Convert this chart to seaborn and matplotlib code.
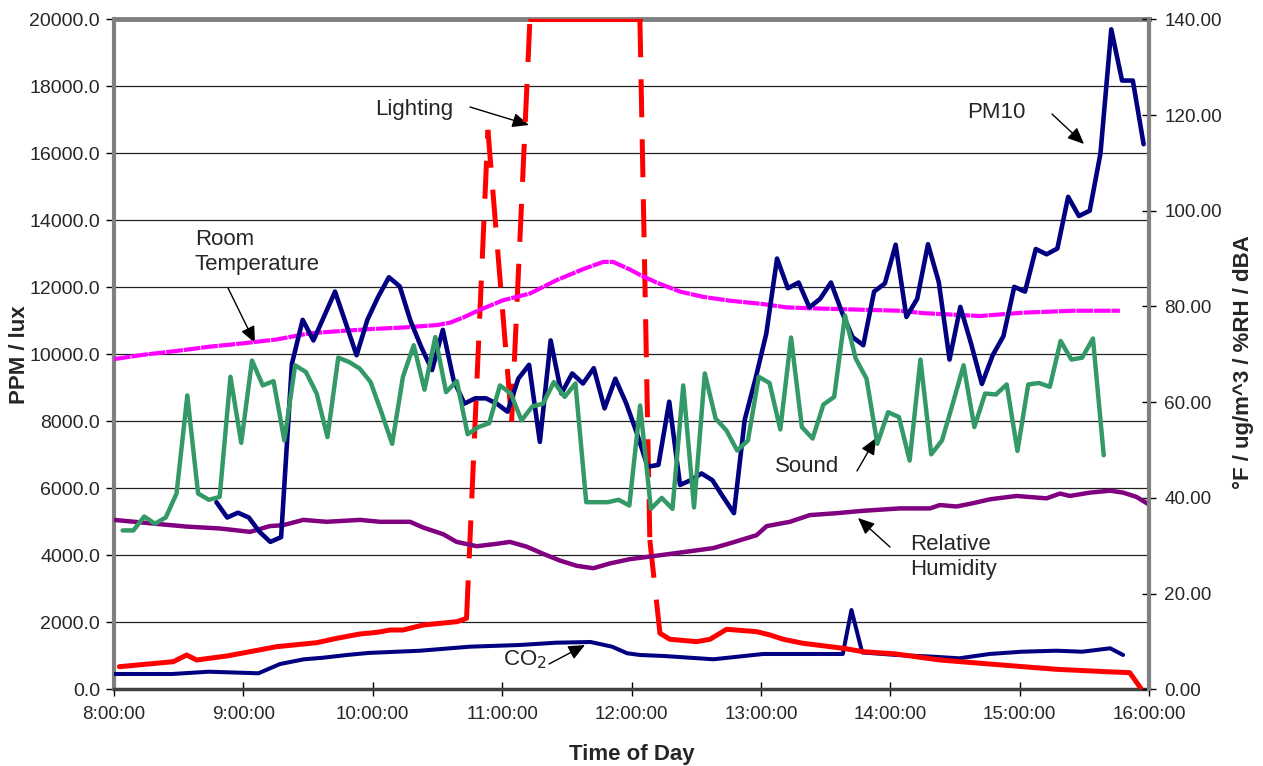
import numpy as np
import pandas as pd
import matplotlib
matplotlib.use("Agg")
import matplotlib.pyplot as plt
import seaborn as sns

sns.set_style("white")
plt.rcParams['font.family'] = ['Liberation Sans', 'DejaVu Sans']

# ---------------- data ----------------
hour_ticks = [8, 9, 10, 11, 12, 13, 14, 15, 16]
hour_labels = ["8:00:00", "9:00:00", "10:00:00", "11:00:00", "12:00:00",
               "13:00:00", "14:00:00", "15:00:00", "16:00:00"]
left_ticks = [0, 2000, 4000, 6000, 8000, 10000, 12000, 14000, 16000, 18000, 20000]
right_ticks = [0, 20, 40, 60, 80, 100, 120, 140]

# Sound (dBA), sampled every 5 min starting 8:04
sound_start_min = 4
sound_dba = [33.2, 33.2, 36.1, 34.6, 35.9, 40.9, 61.4, 40.9, 39.6, 40.2,
             65.3, 51.5, 68.7, 63.5, 64.4, 52.0, 67.7, 66.3, 61.8, 52.7,
             69.3, 68.4, 67.0, 64.2, 57.9, 51.3, 65.3, 71.9, 62.6, 73.6,
             62.1, 64.4, 53.3, 54.8, 55.6, 63.5, 61.8, 56.2, 59.1, 59.7,
             64.2, 61.1, 63.9, 39.1, 39.1, 39.1, 39.6, 38.4, 59.3, 37.7,
             40.0, 37.7, 63.5, 38.0, 66.0, 56.6, 54.1, 49.9, 52.0, 65.3,
             64.0, 54.3, 73.5, 54.8, 52.4, 59.5, 61.1, 78.1, 69.1, 64.9,
             51.3, 57.9, 56.9, 47.8, 68.9, 49.1, 52.0, 59.7, 67.7, 54.8,
             61.8, 61.6, 63.7, 49.8, 63.7, 64.0, 63.2, 72.8, 68.9, 69.3,
             73.3, 48.9]

# PM10 (ug/m^3), sampled every 5 min starting 8:47:30
pm10_start_min = 47.5
pm10_ugm3 = [39.1, 35.9, 36.9, 35.9, 32.9, 30.8, 31.8, 68.0, 77.2, 72.9,
             78.0, 83.1, 76.5, 69.8, 77.2, 82.0, 86.1, 84.2, 77.0, 71.5,
             66.7, 75.1, 64.6, 59.7, 60.8, 60.8, 59.7, 58.0, 64.9, 67.8,
             51.7, 72.9, 61.8, 66.0, 63.9, 67.1, 58.7, 64.9, 59.8, 53.5,
             46.5, 46.9, 60.1, 42.7, 43.7, 45.1, 43.7, 40.2, 36.8, 56.3,
             64.9, 74.3, 90.0, 83.8, 85.0, 79.8, 81.6, 85.0, 78.9, 73.6,
             71.9, 83.1, 84.8, 92.9, 77.8, 81.6, 93.0, 85.1, 68.9, 79.9,
             72.2, 63.8, 69.8, 73.8, 84.1, 83.1, 92.0, 90.9, 92.1, 102.9,
             98.9, 100.0, 112.0, 137.9, 127.2, 127.2, 113.9]
sample_step_min = 5

# CO2 (ppm), minutes after 8:00
co2_min = [0, 27, 44, 67, 77, 88, 97, 108, 118, 142, 165, 188, 205, 221, 231,
           238, 244, 255, 278, 301, 338, 342, 347, 363, 380, 392, 406, 421,
           437, 449, 462, 468]
co2_ppm = [457, 457, 525, 478, 755, 895, 943, 1024, 1085, 1152, 1272, 1322,
           1391, 1412, 1272, 1075, 1024, 994, 896, 1054, 1054, 2367, 1100,
           1024, 973, 925, 1054, 1122, 1152, 1122, 1224, 1024]

# Lighting (lux), minutes after 8:00 (values above the axis shown at 20000)
light_min = [2.5, 27.5, 33.7, 38.3, 52.3, 63, 75.4, 94, 103.3, 114, 122, 128,
             134, 143.4, 159, 163.5, 173.4, 184.4, 192.9, 243.9, 248.5, 253.2,
             257.8, 270.2, 276.4, 284.1, 298, 304.2, 310.4, 319.6, 338.2,
             347.5, 362, 383, 398.5, 421.6, 437.1, 460.3, 471.1, 476.5]
light_lux = [675, 824, 1024, 875, 994, 1122, 1272, 1391, 1522, 1651, 1700,
             1770, 1770, 1919, 2018, 2119, 16700, 7990, 20000, 20000, 4457,
             1672, 1493, 1423, 1493, 1791, 1721, 1622, 1493, 1373, 1224,
             1122, 1060, 875, 794, 675, 597, 525, 496, 0]

# Room temperature (F), minutes after 8:00
temp_min = [0, 13.6, 29, 44.5, 60, 75.4, 90.9, 106.3, 120, 134.1, 149.6, 155.8,
            162, 169.7, 180.5, 192.9, 205.3, 217.6, 226.9, 231.5, 239.3, 243.9,
            251.6, 262.5, 273.3, 285.6, 301.1, 311.9, 324.3, 339.8, 364.5,
            375.3, 401.6, 421.6, 444.8, 466.5]
temp_f = [69.0, 69.9, 70.7, 71.6, 72.3, 73.1, 74.4, 74.9, 75.3, 75.6, 76.1,
          76.6, 77.7, 79.3, 81.3, 82.7, 85.5, 87.8, 89.3, 89.3, 87.7, 86.6,
          85.0, 83.1, 82.0, 81.2, 80.5, 79.8, 79.6, 79.4, 79.1, 78.6, 78.0,
          78.7, 79.1, 79.1]

# Relative humidity (%RH), minutes after 8:00
rh_min = [0, 21.3, 33.7, 49.2, 63.1, 72.3, 78.5, 87.8, 98.6, 114.1, 123.3,
          137.3, 143.4, 152.7, 158.9, 168.2, 177.5, 183.6, 191.4, 199.1, 206.8,
          214.6, 222.3, 230, 239.3, 254.7, 277.9, 285.6, 298, 302.7, 313.5,
          322.7, 335.1, 347.5, 364.5, 378.4, 383, 390.8, 398.5, 406.2, 418.6,
          432.5, 438.7, 443.3, 452.6, 461.9, 468, 474.2, 480]
rh_pct = [35.4, 34.5, 34.0, 33.6, 32.9, 34.1, 34.3, 35.4, 35.0, 35.4, 35.0,
          35.0, 33.8, 32.4, 30.8, 29.9, 30.4, 30.8, 29.8, 28.3, 26.9, 25.8,
          25.3, 26.3, 27.2, 28.1, 29.5, 30.5, 32.2, 34.1, 35.0, 36.4, 36.8,
          37.3, 37.8, 37.8, 38.5, 38.2, 38.9, 39.7, 40.4, 39.9, 40.9, 40.4,
          41.1, 41.5, 41.1, 40.2, 38.6]


def to_hours(mins):
    return 8 + np.asarray(mins, dtype=float) / 60.0


sound_df = pd.DataFrame({
    "hour": to_hours(sound_start_min + sample_step_min * np.arange(len(sound_dba))),
    "value": sound_dba})
pm10_df = pd.DataFrame({
    "hour": to_hours(pm10_start_min + sample_step_min * np.arange(len(pm10_ugm3))),
    "value": pm10_ugm3})
co2_df = pd.DataFrame({"hour": to_hours(co2_min), "value": co2_ppm})
temp_df = pd.DataFrame({"hour": to_hours(temp_min), "value": temp_f})
rh_df = pd.DataFrame({"hour": to_hours(rh_min), "value": rh_pct})
light_x = to_hours(light_min)
light_y = np.asarray(light_lux, dtype=float)

# ---------------- figure ----------------
W, H = 1263, 766
fig = plt.figure(figsize=(W / 100, H / 100), dpi=100)
ax = fig.add_axes([114 / W, 1 - 689.3 / H, 1035 / W, 670 / H])
ax2 = ax.twinx()

NAVY = "#000080"
RED = "#FF0000"
GREEN = "#339966"
MAGENTA = "#FF00FF"
PURPLE = "#800080"

ax.grid(False)
ax2.grid(False)
ax.set_axisbelow(True)
ax.yaxis.grid(True, color="#222222", linewidth=0.9)

# left-axis series
line_kw = dict(estimator=None, sort=False)
sns.lineplot(data=co2_df, x="hour", y="value", ax=ax, color=NAVY,
             linewidth=2.9, zorder=3, **line_kw)

# lighting: long jumps dashed (dash pattern restarts each segment), rest solid
big = np.abs(np.diff(light_y)) > 2500
run = [0]
dash = (0, (7.6, 4.4))
for i, b in enumerate(big):
    if b:
        if len(run) > 1:
            sns.lineplot(x=light_x[run], y=light_y[run], ax=ax, color=RED,
                         linewidth=3.6, zorder=4, **line_kw)
        sns.lineplot(x=light_x[i:i + 2], y=light_y[i:i + 2], ax=ax, color=RED,
                     linewidth=3.6, linestyle=dash, zorder=4, **line_kw)
        run = [i + 1]
    else:
        run.append(i + 1)
if len(run) > 1:
    sns.lineplot(x=light_x[run], y=light_y[run], ax=ax, color=RED,
                 linewidth=3.6, zorder=4, **line_kw)

# right-axis series
sns.lineplot(data=temp_df, x="hour", y="value", ax=ax2, color=MAGENTA,
             linewidth=3.0, linestyle=(0, (4.0, 0.22)), zorder=2, **line_kw)
sns.lineplot(data=rh_df, x="hour", y="value", ax=ax2, color=PURPLE,
             linewidth=3.2, zorder=2, **line_kw)
sns.lineplot(data=pm10_df, x="hour", y="value", ax=ax2, color=NAVY,
             linewidth=3.3, zorder=3, **line_kw)
sns.lineplot(data=sound_df, x="hour", y="value", ax=ax2, color=GREEN,
             linewidth=3.2, zorder=4, **line_kw)

# axes limits / ticks
ax.set_xlim(8, 16)
ax.set_ylim(0, 20000)
ax2.set_ylim(0, 140)
ax.set_xticks(hour_ticks)
ax.set_xticklabels(hour_labels)
ax.set_yticks(left_ticks)
ax.set_yticklabels([f"{v:.1f}" for v in left_ticks])
ax2.set_yticks(right_ticks)
ax2.set_yticklabels([f"{v:.2f}" for v in right_ticks])

ax.tick_params(axis="y", direction="out", length=6, width=1, color="black",
               labelsize=14, pad=4, left=True, right=False)
ax.tick_params(axis="x", direction="inout", length=10, width=1, color="black",
               labelsize=13.6, pad=7, bottom=True)
ax2.tick_params(axis="y", direction="inout", length=10, width=1, color="black",
                labelsize=13.6, pad=6, right=True)

for s in ["top", "left", "right", "bottom"]:
    ax2.spines[s].set_visible(False)
ax2.spines["right"].set_visible(True)
ax2.spines["right"].set_color("#808080")
ax2.spines["right"].set_linewidth(3)
ax.spines["right"].set_visible(False)
ax.spines["top"].set_color("#808080")
ax.spines["top"].set_linewidth(3.5)
ax.spines["left"].set_color("#808080")
ax.spines["left"].set_linewidth(3)
ax.spines["bottom"].set_color("#404040")
ax.spines["bottom"].set_linewidth(2.5)

ax.set_xlabel("Time of Day", fontsize=16, fontweight="bold")
ax.set_ylabel("PPM / lux", fontsize=16, fontweight="bold")
ax2.set_ylabel("°F / ug/m^3 / %RH / dBA", fontsize=16, fontweight="bold")
ax.xaxis.set_label_coords(0.5, -0.081)
ax.yaxis.set_label_coords(-0.0815, 0.5)
ax2.yaxis.set_label_coords(1.081, 0.489)

# annotations (figure-pixel layout)
arrow = dict(arrowstyle="-|>,head_length=0.5,head_width=0.22", color="black",
             lw=1.0, mutation_scale=20, shrinkA=0, shrinkB=0)


def note(text, txy, tail, head):
    fig.text(txy[0] / W, 1 - txy[1] / H, text, fontsize=16, ha="left",
             va="center", linespacing=1.25, multialignment="left")
    ax.annotate("", xy=(head[0], H - head[1]), xycoords="figure pixels",
                xytext=(tail[0], H - tail[1]), textcoords="figure pixels",
                arrowprops=arrow, annotation_clip=False)


note("Lighting", (375, 110), (470, 107), (529, 125))
note("PM10", (967, 112), (1052, 114), (1084, 144))
note("Room\nTemperature", (195, 252), (228, 288), (255, 343))
note("Sound", (775, 466), (857, 471), (876, 438))
note("Relative\nHumidity", (910, 557), (890, 547), (858, 518))
note("CO$_2$", (503, 660), (549, 664), (585, 645))

fig.savefig("out.png", dpi=100)
